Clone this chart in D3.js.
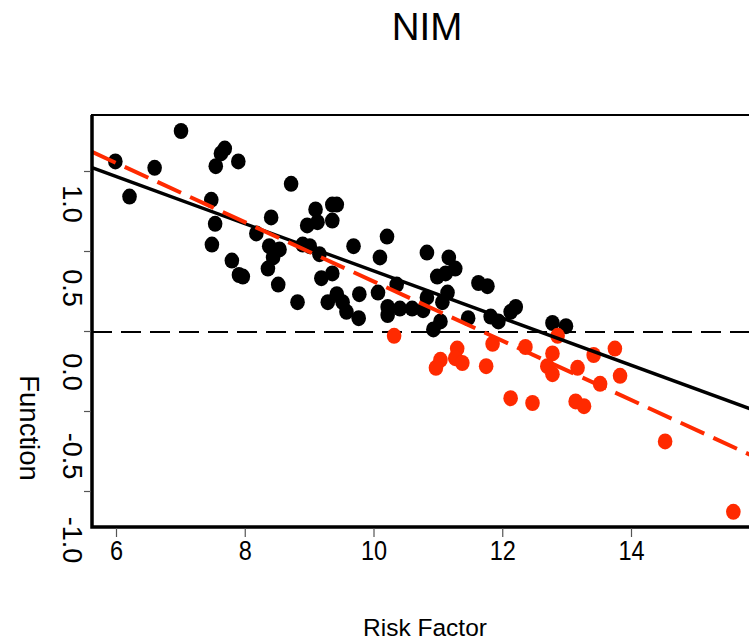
<!DOCTYPE html>
<html>
<head>
<meta charset="utf-8">
<script src="https://cdn.jsdelivr.net/npm/d3@7"></script>
<style>
  body { margin: 0; background: #fff; }
  text { font-family: "Liberation Sans", Arial, sans-serif; }
</style>
</head>
<body>
<div id="output"></div>
<script>
// Points above the threshold (black) and below it (red), [risk factor, function]
const blackPoints = [
  [5.99, 1.06], [6.21, 0.84], [6.60, 1.02], [7.01, 1.25], [7.48, 0.82], [7.49, 0.54],
  [7.54, 0.67], [7.55, 1.03], [7.63, 1.11], [7.69, 1.14], [7.90, 1.06], [7.80, 0.44],
  [7.91, 0.35], [7.97, 0.34], [8.18, 0.61], [8.41, 0.71], [8.38, 0.53], [8.54, 0.51],
  [8.44, 0.46], [8.36, 0.39], [8.52, 0.29], [8.72, 0.92], [8.82, 0.18], [8.90, 0.54],
  [8.97, 0.66], [9.01, 0.53], [9.10, 0.76], [9.13, 0.68], [9.16, 0.48], [9.19, 0.33],
  [9.36, 0.79], [9.43, 0.79], [9.36, 0.69], [9.36, 0.36], [9.29, 0.18], [9.43, 0.23],
  [9.52, 0.18], [9.58, 0.12], [9.69, 0.53], [9.78, 0.23], [9.77, 0.08], [10.07, 0.24],
  [10.10, 0.46], [10.21, 0.59], [10.22, 0.15], [10.22, 0.10], [10.36, 0.29], [10.41, 0.14],
  [10.60, 0.14], [10.77, 0.13], [10.83, 0.49], [10.83, 0.21], [10.93, 0.01], [10.99, 0.34],
  [11.04, 0.06], [11.07, 0.18], [11.12, 0.36], [11.15, 0.24], [11.17, 0.46], [11.27, 0.39],
  [11.47, 0.08], [11.63, 0.30], [11.77, 0.28], [11.82, 0.09], [11.94, 0.06], [12.13, 0.12],
  [12.21, 0.15], [12.78, 0.05], [12.99, 0.03]
];

const redPoints = [
  [10.32, -0.03], [11.04, -0.18], [10.97, -0.23], [11.30, -0.11], [11.27, -0.17], [11.38, -0.20],
  [11.75, -0.22], [11.85, -0.08], [12.13, -0.42], [12.36, -0.10], [12.47, -0.45], [12.78, -0.14],
  [12.70, -0.22], [12.78, -0.27], [12.86, -0.03], [13.17, -0.23], [13.42, -0.15], [13.52, -0.33],
  [13.75, -0.11], [13.83, -0.28], [13.14, -0.44], [13.27, -0.47], [14.53, -0.69], [15.59, -1.13]
];

// Fitted lines: [intercept, slope]
const fitAll = [1.85, -0.1474];
const fitRed = [2.162, -0.1852];
const threshold = 0;

const xTicks = [6, 8, 10, 12, 14];
const yTicks = [1.0, 0.5, 0.0, -0.5, -1.0];
const yTickLabels = ["1.0", "0.5", "0.0", "-0.5", "-1.0"];

function PlotGraph(parent_element = "output") {
  const W = 749, H = 641;
  const plot = {left: 92, top: 115, right: 775, bottom: 527};
  const red = "#ff2a00";

  const svg = d3.select("#" + parent_element).append("svg")
    .attr("width", W)
    .attr("height", H);

  // Scales
  const x = d3.scaleLinear().domain([6, 14]).range([116, 631]);
  const y = d3.scaleLinear().domain([-1, 1]).range([491, 171]);
  // tick labels sit on a slightly different grid in the original
  const yLab = d3.scaleLinear().domain([-1, 1]).range([540, 204]);

  svg.append("clipPath").attr("id", "clip")
    .append("rect")
    .attr("x", plot.left).attr("y", plot.top)
    .attr("width", plot.right - plot.left).attr("height", plot.bottom - plot.top);

  const g = svg.append("g").attr("clip-path", "url(#clip)");

  const x0 = x.invert(plot.left), x1 = x.invert(plot.right);

  // Threshold line
  g.append("line")
    .attr("x1", plot.left).attr("x2", plot.right)
    .attr("y1", y(threshold) + 1).attr("y2", y(threshold) + 1)
    .attr("stroke", "#000")
    .attr("stroke-width", 1.8)
    .attr("stroke-dasharray", "20,9");

  // Points
  g.selectAll(".pb").data(blackPoints).enter().append("ellipse")
    .attr("cx", d => x(d[0])).attr("cy", d => y(d[1]))
    .attr("rx", 7.3).attr("ry", 8)
    .attr("fill", "#000");

  g.selectAll(".pr").data(redPoints).enter().append("ellipse")
    .attr("cx", d => x(d[0])).attr("cy", d => y(d[1]))
    .attr("rx", 7.3).attr("ry", 8)
    .attr("fill", red);

  // Fitted lines
  g.append("line")
    .attr("x1", x(x0)).attr("y1", y(fitAll[0] + fitAll[1] * x0))
    .attr("x2", x(x1)).attr("y2", y(fitAll[0] + fitAll[1] * x1))
    .attr("stroke", "#000")
    .attr("stroke-width", 3.4);

  g.append("line")
    .attr("x1", x(x0)).attr("y1", y(fitRed[0] + fitRed[1] * x0))
    .attr("x2", x(x1)).attr("y2", y(fitRed[0] + fitRed[1] * x1))
    .attr("stroke", red)
    .attr("stroke-width", 4)
    .attr("stroke-dasharray", "26,10");

  // Frame
  svg.append("rect")
    .attr("x", plot.left).attr("y", plot.top)
    .attr("width", plot.right - plot.left).attr("height", plot.bottom - plot.top)
    .attr("fill", "none")
    .attr("stroke", "#000")
    .attr("stroke-width", 2);
  svg.append("path")
    .attr("d", `M${plot.left},${plot.top}V${plot.bottom}H${plot.right}`)
    .attr("fill", "none")
    .attr("stroke", "#000")
    .attr("stroke-width", 3.5);

  // X axis
  const xAxis = svg.append("g")
    .attr("transform", `translate(0,${plot.bottom + 1})`)
    .call(d3.axisBottom(x).tickValues(xTicks).tickSize(9).tickPadding(3));
  xAxis.select(".domain").remove();
  xAxis.selectAll("line").attr("stroke", "#555").attr("stroke-width", 1.2);
  xAxis.selectAll("text")
    .attr("transform", "scale(0.84,1)")
    .style("font-size", "28px")
    .attr("fill", "#000");

  // Y axis (ticks only, labels drawn separately)
  const yAxis = svg.append("g")
    .attr("transform", `translate(${plot.left - 1},0)`)
    .call(d3.axisLeft(y).tickValues(yTicks).tickSize(7).tickFormat(""));
  yAxis.select(".domain").remove();
  yAxis.selectAll("line").attr("stroke", "#555").attr("stroke-width", 1.2);

  svg.selectAll(".ylab").data(yTicks).enter().append("text")
    .attr("transform", d => `translate(63,${yLab(d)}) rotate(90)`)
    .attr("text-anchor", "middle")
    .style("font-size", "27px")
    .text((d, i) => yTickLabels[i]);

  // Axis titles
  svg.append("text")
    .attr("x", 425).attr("y", 636)
    .attr("text-anchor", "middle")
    .style("font-size", "24.5px")
    .text("Risk Factor");

  svg.append("text")
    .attr("transform", "translate(20,428) rotate(90)")
    .attr("text-anchor", "middle")
    .style("font-size", "27.5px")
    .text("Function");

  // Title
  svg.append("text")
    .attr("x", 427).attr("y", 40)
    .attr("text-anchor", "middle")
    .style("font-size", "38.5px")
    .text("NIM");
}

document.addEventListener('DOMContentLoaded', (event) => {
  PlotGraph();
});
</script>
</body>
</html>
